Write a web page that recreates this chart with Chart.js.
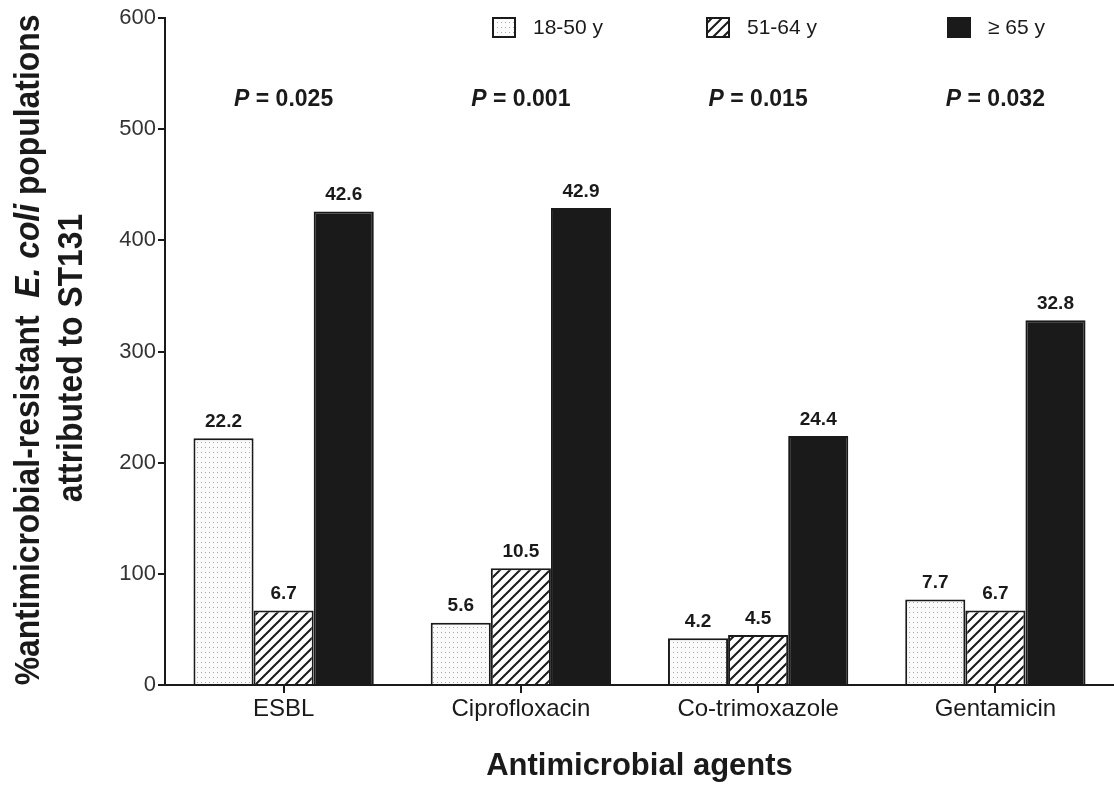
<!DOCTYPE html>
<html>
<head>
<meta charset="utf-8">
<script src="https://cdn.jsdelivr.net/npm/chart.js@4.4.0/dist/chart.umd.min.js"></script>
<style>
html, body { margin: 0; padding: 0; background: #fff; }
#wrap { width: 1114px; height: 787px; }
</style>
</head>
<body>
<div id="wrap"><canvas id="canvas" width="1114" height="787"></canvas></div>
<script>
// datos
var agentes = ["ESBL", "Ciprofloxacin", "Co-trimoxazole", "Gentamicin"];
var grupos = ["18-50 y", "51-64 y", "\u2265 65 y"];
var joven = [222, 56, 42, 77];
var medio = [67, 105, 45, 67];
var mayor = [426, 429, 224, 328];
var etiqJoven = ["22.2", "5.6", "4.2", "7.7"];
var etiqMedio = ["6.7", "10.5", "4.5", "6.7"];
var etiqMayor = ["42.6", "42.9", "24.4", "32.8"];
var valoresP = ["0.025", "0.001", "0.015", "0.032"];
var ticksY = [0, 100, 200, 300, 400, 500, 600];

var FUENTE = "'Liberation Sans', Arial, sans-serif";

function patronPuntos() {
    var c = document.createElement("canvas");
    c.width = 4; c.height = 5;
    var g = c.getContext("2d");
    g.fillStyle = "#fbfbfb";
    g.fillRect(0, 0, 4, 5);
    g.fillStyle = "#a8a8a8";
    g.fillRect(1, 2, 1, 1);
    return g.createPattern(c, "repeat");
}

function patronRayas() {
    var c = document.createElement("canvas");
    c.width = 10; c.height = 10;
    var g = c.getContext("2d");
    g.fillStyle = "#fff";
    g.fillRect(0, 0, 10, 10);
    g.strokeStyle = "#1a1a1a";
    g.lineWidth = 2;
    g.beginPath();
    g.moveTo(-5, 5); g.lineTo(5, -5);
    g.moveTo(0, 10); g.lineTo(10, 0);
    g.moveTo(5, 15); g.lineTo(15, 5);
    g.stroke();
    return g.createPattern(c, "repeat");
}

var rellenos = [patronPuntos(), patronRayas(), "#1a1a1a"];
var etiquetas = [etiqJoven, etiqMedio, etiqMayor];

// texto con partes en cursiva, comprimido a lo largo (el original usa letra angosta)
function textoMixto(ctx, partes, size, escala) {
    var total = 0;
    partes.forEach(function (p) {
        ctx.font = (p.it ? "italic " : "") + "bold " + size + "px " + FUENTE;
        p.w = ctx.measureText(p.t).width;
        total += p.w;
    });
    ctx.scale(escala, 1);
    var x = -total / 2;
    partes.forEach(function (p) {
        ctx.font = (p.it ? "italic " : "") + "bold " + size + "px " + FUENTE;
        ctx.fillText(p.t, x, 0);
        x += p.w;
    });
}

var dibujos = {
    id: "dibujos",
    afterDatasetsDraw: function (chart) {
        var ctx = chart.ctx;
        var area = chart.chartArea;
        var xs = chart.scales.x;
        ctx.save();
        ctx.fillStyle = "#1a1a1a";

        // etiquetas sobre barras
        ctx.font = "bold 19px " + FUENTE;
        ctx.textAlign = "center";
        ctx.textBaseline = "bottom";
        chart.data.datasets.forEach(function (ds, i) {
            var meta = chart.getDatasetMeta(i);
            meta.data.forEach(function (bar, j) {
                ctx.fillText(etiquetas[i][j], bar.x, bar.y - 7);
            });
        });

        // valores P
        ctx.textBaseline = "middle";
        valoresP.forEach(function (v, j) {
            var cx = xs.getPixelForValue(j);
            ctx.font = "italic bold 23px " + FUENTE;
            var w1 = ctx.measureText("P").width;
            ctx.font = "bold 23px " + FUENTE;
            var resto = " = " + v;
            var w2 = ctx.measureText(resto).width;
            var x0 = cx - (w1 + w2) / 2;
            ctx.textAlign = "left";
            ctx.font = "italic bold 23px " + FUENTE;
            ctx.fillText("P", x0, 100);
            ctx.font = "bold 23px " + FUENTE;
            ctx.fillText(resto, x0 + w1, 100);
        });

        // leyenda
        var posLeyenda = [493, 707, 948];
        ctx.font = "21px " + FUENTE;
        grupos.forEach(function (g, i) {
            var bx = posLeyenda[i];
            ctx.fillStyle = rellenos[i];
            ctx.fillRect(bx, 18, 22, 19);
            ctx.strokeStyle = "#1a1a1a";
            ctx.lineWidth = 2;
            ctx.strokeRect(bx, 18, 22, 19);
            ctx.fillStyle = "#1a1a1a";
            ctx.textAlign = "left";
            ctx.fillText(g, bx + 40, 28);
        });

        // titulo eje x
        ctx.font = "bold 31px " + FUENTE;
        ctx.textAlign = "center";
        ctx.fillText("Antimicrobial agents", (area.left + area.right) / 2, 766);

        // titulo eje y
        ctx.textAlign = "left";
        ctx.textBaseline = "alphabetic";
        ctx.save();
        ctx.translate(39, 350);
        ctx.rotate(-Math.PI / 2);
        textoMixto(ctx, [
            { t: "%antimicrobial-resistant  ", it: false },
            { t: "E. coli", it: true },
            { t: " populations", it: false }
        ], 35, 0.91);
        ctx.restore();
        ctx.save();
        ctx.translate(82, 358);
        ctx.rotate(-Math.PI / 2);
        textoMixto(ctx, [{ t: "attributed to ST131", it: false }], 35, 0.91);
        ctx.restore();

        ctx.restore();
    }
};

var ctx = document.getElementById("canvas").getContext("2d");

var grafico = new Chart(ctx, {
    type: "bar",
    data: {
        labels: agentes,
        datasets: [
            { label: grupos[0], data: joven, backgroundColor: rellenos[0] },
            { label: grupos[1], data: medio, backgroundColor: rellenos[1] },
            { label: grupos[2], data: mayor, backgroundColor: rellenos[2] }
        ]
    },
    options: {
        responsive: false,
        animation: false,
        layout: { padding: { top: 18, left: 0, right: 0, bottom: 0 } },
        datasets: {
            bar: {
                borderColor: "#1a1a1a",
                borderWidth: 2,
                borderSkipped: "bottom",
                categoryPercentage: 0.76,
                barPercentage: 1.0
            }
        },
        plugins: {
            legend: { display: false },
            tooltip: { enabled: false }
        },
        scales: {
            x: {
                grid: { drawOnChartArea: false, offset: false, tickLength: 8, color: "#1a1a1a", lineWidth: 2 },
                border: { color: "#1a1a1a", width: 2 },
                ticks: { color: "#1a1a1a", padding: 2, font: { family: FUENTE, size: 24 } },
                afterFit: function (s) { s.height = 102; }
            },
            y: {
                min: 0,
                max: 600,
                afterBuildTicks: function (s) {
                    s.ticks = ticksY.map(function (v) { return { value: v }; });
                },
                grid: { drawOnChartArea: false, tickLength: 7, color: "#1a1a1a", lineWidth: 2 },
                border: { color: "#1a1a1a", width: 2 },
                ticks: { color: "#333", padding: 2, font: { family: FUENTE, size: 22 } },
                afterFit: function (s) { s.width = 165; }
            }
        }
    },
    plugins: [dibujos]
});
</script>
</body>
</html>
